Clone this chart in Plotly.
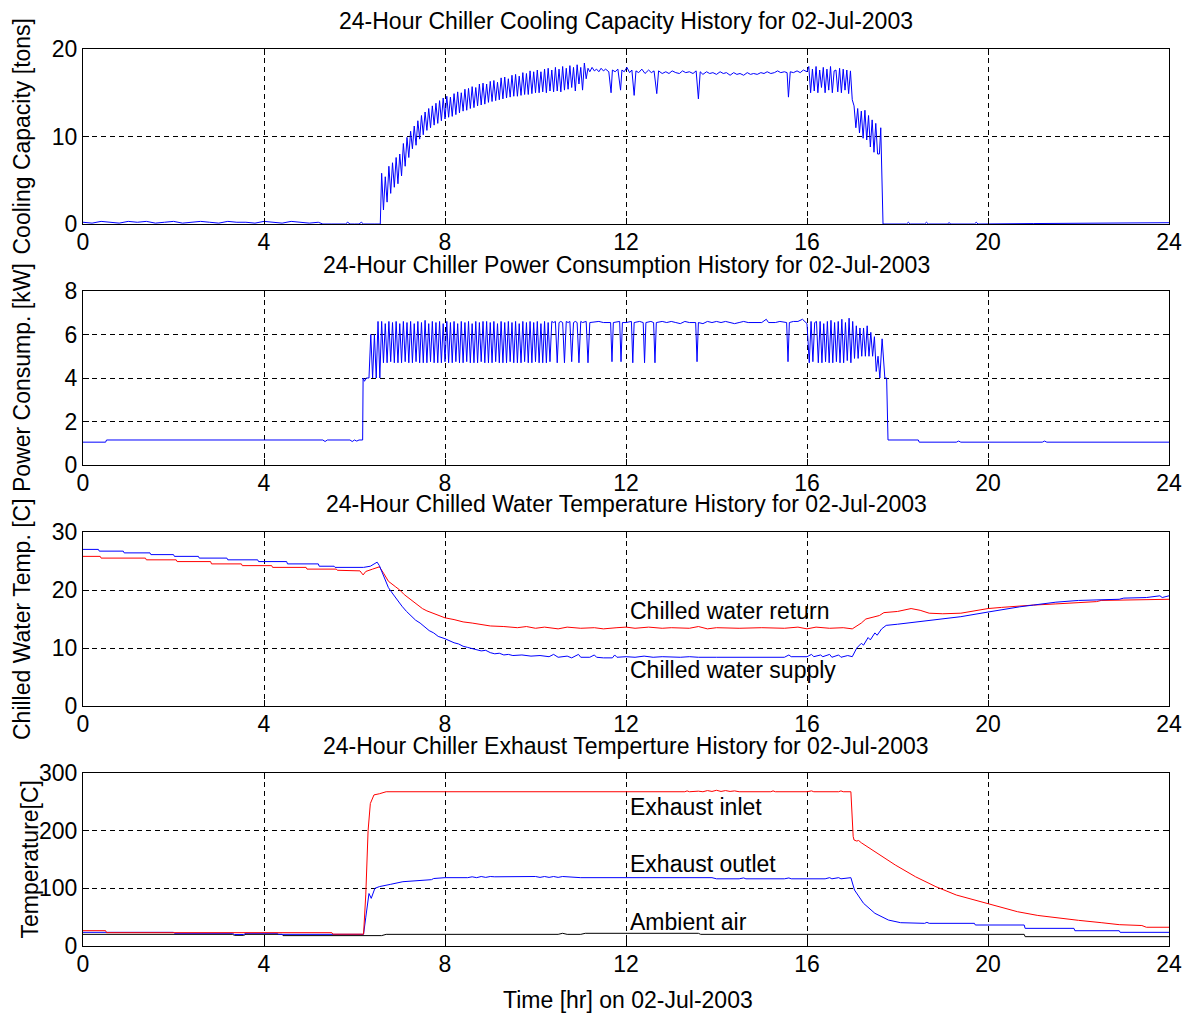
import plotly.graph_objects as go

FONT = "Liberation Sans, Arial, sans-serif"
W, H = 1188, 1015
FS = 23

x_ticks = [0, 4, 8, 12, 16, 20, 24]

# ---------------- Panel 1: cooling capacity [tons] ----------------
cap_pre_hr = [0.0, 0.2, 0.4, 0.6, 0.8, 1.0, 1.2, 1.4, 1.6, 1.8, 2.0, 2.2, 2.4, 2.6, 2.8, 3.0, 3.2, 3.4,
              3.6, 3.8, 4.0, 4.2, 4.4, 4.6, 4.8, 5.0, 5.2, 5.3, 5.5, 5.8, 5.85, 5.9, 6.0, 6.1, 6.15, 6.2,
              6.45, 6.57]
cap_pre_tons = [0.2, 0.1, 0.3, 0.2, 0.1, 0.3, 0.2, 0.3, 0.1, 0.2, 0.3, 0.1, 0.2, 0.3, 0.2, 0.1, 0.3, 0.2,
                0.2, 0.1, 0.3, 0.2, 0.1, 0.3, 0.2, 0.1, 0.2, 0.0, 0.0, 0.0, 0.2, 0.0, 0.0, 0.0, 0.2, 0.0,
                0.0, 0.0]

dense_hr = [6.60, 6.64, 6.68, 6.72, 6.76, 6.80, 6.84, 6.88, 6.92, 6.96,
            7.00, 7.04, 7.08, 7.12, 7.16, 7.20, 7.24, 7.28, 7.32, 7.36,
            7.40, 7.44, 7.48, 7.52, 7.56, 7.60, 7.64, 7.68, 7.72, 7.76,
            7.80, 7.84, 7.88, 7.92, 7.96, 8.00, 8.04, 8.08, 8.12, 8.16,
            8.20, 8.24, 8.28, 8.32, 8.36, 8.40, 8.44, 8.48, 8.52, 8.56,
            8.60, 8.64, 8.68, 8.72, 8.76, 8.80, 8.84, 8.88, 8.92, 8.96,
            9.00, 9.04, 9.08, 9.12, 9.16, 9.20, 9.24, 9.28, 9.32, 9.36,
            9.40, 9.44, 9.48, 9.52, 9.56, 9.60, 9.64, 9.68, 9.72, 9.76,
            9.80, 9.84, 9.88, 9.92, 9.96, 10.00, 10.04, 10.08, 10.12, 10.16,
            10.20, 10.24, 10.28, 10.32, 10.36, 10.40, 10.44, 10.48, 10.52, 10.56,
            10.60, 10.64, 10.68, 10.72, 10.76, 10.80, 10.84, 10.88, 10.92, 10.96,
            11.00]

cap_dense_tons = [5.8, 1.6, 5.4, 2.5, 6.6, 3.5, 7.0, 4.2, 7.6, 4.6,
                  8.0, 5.5, 9.2, 6.6, 9.9, 7.6, 10.6, 8.6, 11.2, 9.0,
                  11.8, 9.7, 12.4, 10.2, 12.8, 10.7, 13.2, 11.0, 13.5, 11.3,
                  13.8, 11.5, 14.1, 11.8, 14.4, 12.0, 14.6, 12.2, 14.5, 12.3,
                  14.9, 12.5, 15.1, 12.7, 15.0, 12.9, 15.4, 13.0, 15.5, 13.2,
                  15.7, 13.3, 15.6, 13.5, 16.0, 13.6, 16.1, 13.7, 16.0, 13.9,
                  16.3, 14.0, 16.4, 14.1, 16.2, 14.2, 16.7, 14.3, 16.8, 14.4,
                  16.6, 14.5, 17.0, 14.6, 17.1, 14.6, 16.9, 14.7, 17.3, 14.8,
                  17.2, 14.8, 17.5, 14.9, 17.4, 15.0, 17.6, 15.0, 17.4, 15.1,
                  17.7, 15.0, 17.8, 15.2, 17.6, 15.1, 17.9, 15.2, 17.7, 15.1,
                  18.0, 15.3, 17.8, 15.4, 18.1, 15.6, 17.9, 15.2, 18.2, 16.0,
                  17.9]

cap_post_hr = [11.04, 11.08, 11.12, 11.16, 11.20, 11.25, 11.30, 11.35, 11.40, 11.45, 11.50, 11.55,
               11.62, 11.67, 11.70, 11.76, 11.82, 11.88, 11.91, 11.96, 12.02, 12.08, 12.13, 12.18,
               12.22, 12.28, 12.35, 12.42, 12.50, 12.56, 12.62, 12.68, 12.72, 12.80, 12.88, 12.95,
               13.02, 13.10, 13.18, 13.25, 13.32, 13.40, 13.48, 13.55, 13.60, 13.64, 13.70, 13.78,
               13.85, 13.92, 14.00, 14.08, 14.15, 14.22, 14.30, 14.38, 14.45, 14.52, 14.60, 14.68,
               14.75, 14.82, 14.90, 14.98, 15.05, 15.12, 15.20, 15.28, 15.35, 15.42, 15.50, 15.56,
               15.59, 15.63, 15.70, 15.78, 15.85, 15.92, 16.00, 16.04, 16.08, 16.12, 16.16, 16.20,
               16.24, 16.28, 16.32, 16.36, 16.40, 16.44, 16.48, 16.52, 16.56, 16.60, 16.64, 16.68,
               16.72, 16.76, 16.80, 16.84, 16.88, 16.92, 16.96, 17.00, 17.04, 17.08, 17.12, 17.16,
               17.20, 17.24, 17.28, 17.32, 17.36, 17.40, 17.44, 17.48, 17.52, 17.56, 17.60, 17.63,
               17.68, 18.20, 18.24, 18.28, 18.60, 18.64, 18.68, 19.10, 19.14, 19.18, 19.70, 19.74,
               19.78, 21.0, 22.5, 24.0]
cap_post_tons = [15.3, 18.4, 16.6, 17.8, 17.4, 17.9, 17.5, 17.7, 17.4, 17.8, 17.5, 17.7,
                 17.4, 15.0, 17.6, 17.4, 17.7, 15.3, 17.6, 17.4, 17.9, 17.3, 17.6, 14.7,
                 17.5, 17.3, 17.7, 17.2, 17.6, 17.3, 17.5, 14.9, 17.5, 17.2, 17.4, 17.2,
                 17.5, 17.3, 17.2, 17.5, 17.3, 17.4, 17.2, 17.5, 14.3, 17.4, 17.1, 17.4,
                 17.2, 17.3, 17.1, 17.4, 17.2, 17.3, 17.0, 17.3, 17.1, 17.2, 17.0, 17.3,
                 17.1, 17.2, 17.1, 17.3, 17.2, 17.4, 17.2, 17.3, 17.5, 17.3, 17.4, 17.3,
                 14.5, 17.4, 17.3, 17.5, 17.3, 17.6, 17.4, 18.0, 15.0, 17.7, 15.2, 18.0,
                 15.0, 17.6, 15.6, 17.9, 15.0, 17.7, 15.3, 18.0, 15.0, 17.5, 17.6, 15.1,
                 17.8, 15.0, 17.7, 15.3, 17.6, 14.9, 17.5, 14.2, 13.5, 11.0, 13.2, 10.4,
                 12.9, 9.8, 13.0, 9.6, 12.4, 8.8, 11.9, 8.2, 11.5, 8.0, 8.0, 11.0,
                 0.0, 0.0, 0.2, 0.0, 0.0, 0.2, 0.0, 0.0, 0.15, 0.0, 0.0, 0.2,
                 0.0, 0.05, 0.1, 0.15]

# ---------------- Panel 2: power consumption [kW] ----------------
pow_pre_hr = [0.0, 0.5, 0.52, 5.3, 5.35, 5.4, 5.9, 5.95, 6.0, 6.05, 6.1, 6.18, 6.19, 6.22, 6.26, 6.32,
              6.36, 6.40, 6.44, 6.48, 6.52, 6.56]
pow_pre_kw = [1.05, 1.05, 1.15, 1.15, 1.08, 1.15, 1.15, 1.08, 1.15, 1.1, 1.15, 1.15, 4.0, 3.85, 4.0, 4.0,
              6.0, 4.0, 6.0, 4.0, 6.6, 4.0]

pow_dense_kw = [6.6, 4.7, 6.5, 4.7, 6.6, 4.75, 6.55, 4.7, 6.6, 4.7,
                6.5, 4.7, 6.6, 4.75, 6.55, 4.7, 6.6, 4.7, 6.5, 4.75,
                6.6, 4.7, 6.55, 4.7, 6.65, 4.7, 6.5, 4.75, 6.6, 4.7,
                6.55, 4.7, 6.6, 4.7, 6.5, 4.75, 6.6, 4.7, 6.55, 4.7,
                6.6, 4.75, 6.5, 4.7, 6.6, 4.7, 6.55, 4.75, 6.6, 4.7,
                6.5, 4.7, 6.6, 4.7, 6.55, 4.75, 6.6, 4.7, 6.6, 4.7,
                6.55, 4.7, 6.6, 4.75, 6.5, 4.7, 6.6, 4.7, 6.55, 4.7,
                6.6, 4.75, 6.55, 4.7, 6.6, 4.7, 6.5, 4.7, 6.6, 4.75,
                6.55, 4.7, 6.6, 4.7, 6.55, 4.75, 6.6, 4.7, 6.5, 4.7,
                6.6, 4.7, 6.55, 4.75, 6.6, 6.55, 6.6, 4.7, 6.55, 6.6,
                6.55, 4.7, 6.6, 6.55, 6.6, 4.75, 6.55, 6.6, 6.55, 4.7,
                6.6]

pow_post_hr = [11.04, 11.12, 11.16, 11.20, 11.40, 11.50, 11.66, 11.69, 11.72, 11.86, 11.89, 11.92,
               12.00, 12.12, 12.15, 12.18, 12.30, 12.38, 12.41, 12.44, 12.55, 12.61, 12.64, 12.67,
               12.80, 12.90, 13.00, 13.10, 13.20, 13.30, 13.40, 13.54, 13.57, 13.60, 13.70, 13.80,
               13.90, 14.00, 14.10, 14.20, 14.30, 14.40, 14.50, 14.60, 14.70, 14.80, 14.90, 15.00,
               15.10, 15.15, 15.30, 15.40, 15.55, 15.58, 15.61, 15.70, 15.80, 15.90, 16.00,
               16.05, 16.09, 16.13, 16.17, 16.21, 16.25, 16.29, 16.33, 16.37, 16.41, 16.45, 16.49,
               16.53, 16.57, 16.61, 16.65, 16.69, 16.73, 16.77, 16.81, 16.85, 16.89, 16.93, 16.97,
               17.01, 17.05, 17.09, 17.13, 17.17, 17.21, 17.25, 17.29, 17.33, 17.37, 17.41, 17.45,
               17.49, 17.53, 17.57, 17.61, 17.66, 17.72, 17.76, 17.79, 18.46, 18.48, 19.30, 19.35,
               19.40, 21.20, 21.25, 21.30, 24.0]
pow_post_kw = [6.55, 6.6, 4.7, 6.55, 6.6, 6.55, 6.55, 4.75, 6.55, 6.6, 4.75, 6.55,
               6.55, 6.6, 4.7, 6.55, 6.6, 6.55, 4.7, 6.55, 6.6, 6.55, 4.7, 6.55,
               6.6, 6.55, 6.6, 6.55, 6.5, 6.6, 6.55, 6.55, 4.75, 6.55, 6.5, 6.6,
               6.55, 6.6, 6.55, 6.6, 6.55, 6.5, 6.55, 6.6, 6.55, 6.55, 6.55, 6.55,
               6.7, 6.55, 6.55, 6.6, 6.55, 4.75, 6.55, 6.6, 6.6, 6.7, 6.5,
               4.7, 6.6, 4.75, 6.55, 6.6, 4.7, 6.6, 4.7, 6.5, 4.75, 6.6, 4.7,
               6.65, 4.7, 6.55, 4.75, 6.6, 4.7, 6.7, 4.7, 6.55, 4.8, 6.75, 4.7,
               6.6, 4.9, 6.4, 4.9, 6.3, 5.0, 6.3, 5.0, 6.4, 5.0, 6.1, 5.0,
               5.9, 4.3, 5.0, 4.0, 5.8, 4.0, 4.0, 1.15, 1.15, 1.05, 1.05, 1.1,
               1.05, 1.05, 1.1, 1.05, 1.05]

# ---------------- Panel 3: chilled water temperature [C] ----------------
chw_ret_hr = [0.0, 0.38, 0.40, 1.38, 1.40, 2.06, 2.08, 2.82, 2.84, 3.5, 3.52, 4.17, 4.19, 4.93, 4.95,
              5.6, 5.62, 6.12, 6.19, 6.25, 6.4, 6.55, 6.65, 6.75, 6.9, 7.0, 7.1, 7.2, 7.3, 7.4, 7.5,
              7.6, 7.7, 7.8, 7.9, 8.0, 8.2, 8.4, 8.6, 8.8, 9.0, 9.3, 9.6, 9.8, 10.0, 10.2, 10.5, 10.7,
              11.0, 11.3, 11.5, 11.8, 12.0, 12.2, 12.5, 12.8, 13.0, 13.4, 13.6, 13.8, 14.0, 14.5,
              15.0, 15.5, 15.8, 16.0, 16.2, 16.5, 16.8, 17.0, 17.2, 17.3, 17.4, 17.5, 17.6, 17.7,
              17.8, 18.0, 18.3, 18.5, 18.7, 19.0, 19.4, 19.6, 20.0, 20.3, 20.7, 21.0, 21.5, 22.0,
              22.4, 22.5, 23.0, 24.0]
chw_ret_c = [25.8, 25.8, 25.5, 25.5, 25.2, 25.2, 24.9, 24.9, 24.5, 24.5, 24.2, 24.2, 23.9, 23.9, 23.6,
             23.6, 23.4, 23.3, 22.6, 23.2, 23.6, 24.0, 22.8, 21.5, 20.6, 20.0, 19.2, 18.6, 17.9, 17.4, 16.8,
             16.4, 16.1, 15.7, 15.5, 15.2, 14.9, 14.5, 14.3, 14.1, 13.8, 13.7, 13.5, 13.7, 13.4, 13.6, 13.3, 13.6,
             13.4, 13.5, 13.3, 13.5, 13.6, 13.4, 13.6, 13.4, 13.5, 13.4, 13.7, 13.3, 13.5, 13.4,
             13.5, 13.4, 13.6, 13.3, 13.6, 13.4, 13.5, 13.3, 14.3, 15.0, 15.2, 15.5, 15.6, 16.1,
             16.2, 16.3, 16.8, 16.5, 16.0, 15.9, 16.0, 16.3, 16.8, 17.0, 17.3, 17.4, 17.6, 17.8,
             18.0, 18.2, 18.3, 18.4]

chw_sup_hr = [0.0, 0.34, 0.36, 0.89, 0.91, 1.48, 1.50, 2.0, 2.02, 2.55, 2.57, 3.18, 3.20, 3.86, 3.88,
              4.5, 4.52, 5.2, 5.22, 5.55, 5.57, 6.2, 6.35, 6.5, 6.55, 6.65, 6.75, 6.85, 6.95, 7.05,
              7.15, 7.25, 7.35, 7.45, 7.55, 7.65, 7.75, 7.85, 8.0, 8.1, 8.2, 8.3, 8.4, 8.5, 8.6, 8.7,
              8.8, 8.9, 9.0, 9.1, 9.2, 9.3, 9.4, 9.5, 9.7, 9.9, 10.1, 10.3, 10.4, 10.5, 10.7, 10.8,
              10.95, 11.0, 11.2, 11.3, 11.35, 11.5, 11.7, 11.75, 11.8, 12.0, 12.2, 12.4, 12.6, 12.8,
              13.0, 13.2, 13.4, 13.6, 14.0, 14.5, 15.0, 15.5, 15.6, 15.65, 16.0, 16.1, 16.15, 16.3,
              16.35, 16.5, 16.55, 16.7, 16.75, 16.9, 17.0, 17.1, 17.2, 17.25, 17.35, 17.4, 17.5,
              17.55, 17.65, 17.75, 18.0, 18.5, 19.0, 19.4, 20.0, 20.3, 20.7, 21.0, 21.5, 22.0, 22.9,
              23.0, 23.5, 23.8, 23.85, 24.0]
chw_sup_c = [27.0, 27.0, 26.7, 26.7, 26.4, 26.4, 26.1, 26.1, 25.8, 25.8, 25.5, 25.5, 25.2, 25.2, 24.9,
             24.9, 24.5, 24.5, 24.1, 24.1, 23.9, 23.9, 24.1, 24.8, 24.2, 22.3, 20.4, 19.3, 18.2, 17.2,
             16.3, 15.6, 14.8, 14.3, 13.6, 13.0, 12.6, 12.0, 11.6, 11.2, 10.9, 10.7, 10.3, 10.1, 9.9, 9.6,
             9.5, 9.6, 9.2, 9.0, 9.1, 8.8, 8.9, 8.7, 8.8, 8.6, 8.7, 8.5, 8.9, 8.4, 8.6, 8.3,
             8.9, 8.4, 8.4, 8.8, 8.4, 8.3, 8.3, 8.8, 8.4, 8.5, 8.4, 8.6, 8.4, 8.5,
             8.4, 8.4, 8.5, 8.4, 8.4, 8.4, 8.4, 8.4, 8.8, 8.5, 8.5, 8.9, 8.5, 8.8,
             8.5, 8.9, 8.4, 8.8, 8.4, 8.7, 8.5, 10.0, 10.8, 10.5, 11.8, 11.4, 12.6,
             12.2, 13.3, 13.9, 14.1, 14.6, 15.0, 15.4, 16.2, 16.6, 17.1, 17.4, 17.9, 18.2, 18.4,
             18.6, 18.7, 19.0, 18.7, 19.0]

# ---------------- Panel 4: exhaust temperatures [C] ----------------
exh_in_hr = [0.0, 0.5, 0.52, 5.5, 5.52, 6.2, 6.25, 6.3, 6.35, 6.43, 6.55, 6.63, 6.7, 8.0, 10.0, 12.0,
             13.3, 13.35, 13.4, 13.6, 13.7, 13.8, 13.9, 14.0, 14.1, 14.2, 14.3, 14.4, 14.5, 15.2, 15.25,
             15.3, 16.0, 16.1, 16.15, 16.7, 16.75, 16.8, 16.97, 17.02, 17.04, 17.1, 17.14, 17.2, 17.5,
             17.95, 18.4, 18.85, 19.3, 19.97, 20.3, 20.65, 21.1, 21.6, 22.0, 22.5, 22.9, 23.4, 23.5,
             24.0]
exh_in_c = [26.6, 26.6, 23.1, 23.1, 20.5, 20.5, 90.0, 200.0, 247.0, 262.0, 264.0, 266.0, 267.5, 267.5,
            267.5, 267.5, 267.5, 269.0, 267.5, 268.5, 267.5, 269.5, 268.0, 270.0, 268.0, 269.5, 268.0,
            269.0, 267.5, 267.5, 269.0, 267.5, 267.5, 269.0, 267.5, 267.5, 269.0, 267.5, 267.5, 190.0,
            183.8, 182.0, 183.0, 179.0, 163.5, 140.5, 120.0, 102.8, 88.4, 74.0, 67.0, 59.5, 53.0,
            48.0, 44.5, 40.5, 37.0, 35.5, 32.5, 32.5]

exh_out_hr = [0.0, 2.0, 2.02, 3.3, 3.35, 3.55, 3.6, 4.3, 4.32, 6.2, 6.25, 6.32, 6.37, 6.45, 6.55, 6.63,
              6.8, 7.07, 7.3, 7.5, 7.7, 7.75, 8.0, 8.5, 8.6, 8.7, 8.8, 8.9, 9.0, 9.1, 9.5, 10.0, 10.1,
              10.2, 10.3, 10.4, 10.5, 10.6, 11.0, 12.0, 13.9, 14.0, 14.5, 14.6, 14.65, 15.5, 15.6,
              15.65, 16.4, 16.5, 16.55, 16.7, 16.75, 16.97, 17.05, 17.25, 17.5, 17.8, 18.07, 18.6,
              18.65, 18.7, 19.7, 19.72, 20.8, 20.82, 21.9, 21.92, 22.9, 22.92, 24.0]
exh_out_c = [23.7, 23.7, 22.0, 22.0, 19.9, 19.9, 22.0, 22.0, 20.2, 20.2, 50.0, 91.0, 82.6, 100.0, 103.0,
             104.6, 107.0, 111.5, 113.0, 114.4, 115.0, 117.0, 118.5, 118.5, 120.0, 118.5, 120.5, 119.0,
             120.5, 120.0, 120.5, 120.5, 119.0, 120.5, 119.0, 120.5, 119.0, 120.5, 118.5, 118.5, 118.5,
             116.5, 116.5, 118.0, 116.5, 116.5, 118.0, 116.5, 116.5, 118.5, 116.5, 118.5, 116.5,
             118.5, 97.0, 74.0, 56.7, 45.0, 40.4, 39.3, 41.0, 39.3, 39.3, 36.4, 36.4, 30.6, 30.6,
             26.5, 26.5, 23.7, 23.7]

amb_hr = [0.0, 3.3, 3.35, 3.55, 3.6, 4.4, 4.42, 6.6, 6.7, 10.5, 10.6, 10.7, 11.0, 11.1, 13.6, 13.65,
          20.8, 20.82, 24.0]
amb_c = [20.2, 20.2, 18.5, 18.5, 20.2, 20.2, 18.0, 18.0, 20.2, 20.2, 22.0, 20.2, 20.2, 22.0, 22.0, 20.2,
         20.2, 16.2, 16.2]

cap_hr = cap_pre_hr + dense_hr + cap_post_hr
cap_tons = cap_pre_tons + cap_dense_tons + cap_post_tons
pow_hr = pow_pre_hr + dense_hr + pow_post_hr
pow_kw = pow_pre_kw + pow_dense_kw + pow_post_kw

assert len(cap_hr) == len(cap_tons), (len(cap_hr), len(cap_tons))
assert len(pow_hr) == len(pow_kw), (len(pow_hr), len(pow_kw))
assert len(chw_ret_hr) == len(chw_ret_c), (len(chw_ret_hr), len(chw_ret_c))
assert len(chw_sup_hr) == len(chw_sup_c), (len(chw_sup_hr), len(chw_sup_c))
assert len(exh_in_hr) == len(exh_in_c), (len(exh_in_hr), len(exh_in_c))
assert len(exh_out_hr) == len(exh_out_c), (len(exh_out_hr), len(exh_out_c))
assert len(amb_hr) == len(amb_c), (len(amb_hr), len(amb_c))

titles = ["24-Hour Chiller Cooling Capacity History for 02-Jul-2003",
          "24-Hour Chiller Power Consumption History for 02-Jul-2003",
          "24-Hour Chilled Water Temperature History for 02-Jul-2003",
          "24-Hour Chiller Exhaust Temperture History for 02-Jul-2003"]
ylabels = ["Cooling Capacity [tons]", "Power Consump. [kW]", "Chilled Water Temp. [C]", "Temperature[C]"]
y_ranges = [[0, 20], [0, 8], [0, 30], [0, 300]]
y_ticks = [[0, 10, 20], [0, 2, 4, 6, 8], [0, 10, 20, 30], [0, 100, 200, 300]]

# pixel layout of the four axes boxes
px_left, px_right = 83, 1169
px_boxes = [(49, 224), (291, 465), (532, 706), (773, 946)]
title_y = [21, 265, 504, 746]
ylabel_x = [22, 22, 22, 29]

fig = go.Figure()

def add_line(i, x, y, color):
    fig.add_trace(go.Scatter(x=x, y=y, mode="lines", line=dict(color=color, width=1),
                             xaxis="x" if i == 1 else f"x{i}", yaxis="y" if i == 1 else f"y{i}",
                             showlegend=False, hoverinfo="skip"))

add_line(1, cap_hr, cap_tons, "#0000ff")
add_line(2, pow_hr, pow_kw, "#0000ff")
add_line(3, chw_ret_hr, chw_ret_c, "#ff0000")
add_line(3, chw_sup_hr, chw_sup_c, "#0000ff")
add_line(4, amb_hr, amb_c, "#000000")
add_line(4, exh_out_hr, exh_out_c, "#0000ff")
add_line(4, exh_in_hr, exh_in_c, "#ff0000")

tickfont = dict(family=FONT, size=FS, color="black")
common = dict(showline=True, linecolor="black", linewidth=1, mirror="ticks", ticks="inside",
              ticklen=6, tickcolor="black", showgrid=True, gridcolor="black", gridwidth=1,
              griddash="5px,4px", zeroline=False, tickfont=tickfont, fixedrange=True,
              automargin=False)

layout = {}
annotations = []
for k in range(4):
    i = k + 1
    top, bot = px_boxes[k]
    xname = "xaxis" if i == 1 else f"xaxis{i}"
    yname = "yaxis" if i == 1 else f"yaxis{i}"
    layout[xname] = dict(common, domain=[px_left / W, px_right / W], range=[0, 24],
                         tickvals=x_ticks, anchor="y" if i == 1 else f"y{i}",
                         ticklabelstandoff=-3)
    layout[yname] = dict(common, domain=[1 - bot / H, 1 - top / H], range=y_ranges[k],
                         tickvals=y_ticks[k], anchor="x" if i == 1 else f"x{i}")
    annotations.append(dict(text=titles[k], x=(px_left + px_right) / 2 / W, y=1 - title_y[k] / H,
                            xref="paper", yref="paper", showarrow=False, xanchor="center",
                            yanchor="middle", font=dict(family=FONT, size=FS, color="black")))
    annotations.append(dict(text=ylabels[k], x=ylabel_x[k] / W, y=1 - (top + bot) / 2 / H,
                            xref="paper", yref="paper", showarrow=False, xanchor="center",
                            yanchor="middle", textangle=-90,
                            font=dict(family=FONT, size=FS, color="black")))

annotations.append(dict(text="Time [hr] on 02-Jul-2003", x=628 / W, y=1 - 1000 / H, xref="paper",
                        yref="paper", showarrow=False, xanchor="center", yanchor="middle",
                        font=dict(family=FONT, size=FS, color="black")))

series_labels = [("Chilled water return", 3, 16.3), ("Chilled water supply", 3, 6.2),
                 ("Exhaust inlet", 4, 241), ("Exhaust outlet", 4, 142), ("Ambient air", 4, 42)]
for txt, i, yv in series_labels:
    annotations.append(dict(text=txt, x=12.05, y=yv, xref=f"x{i}", yref=f"y{i}", showarrow=False,
                            xanchor="left", yanchor="middle",
                            font=dict(family=FONT, size=FS, color="black")))

fig.update_layout(width=W, height=H, margin=dict(l=0, r=0, t=0, b=0, autoexpand=False),
                  paper_bgcolor="white", plot_bgcolor="white", showlegend=False,
                  annotations=annotations, **layout)

fig.write_html("out.html", post_script="document.body.style.margin='0';")
